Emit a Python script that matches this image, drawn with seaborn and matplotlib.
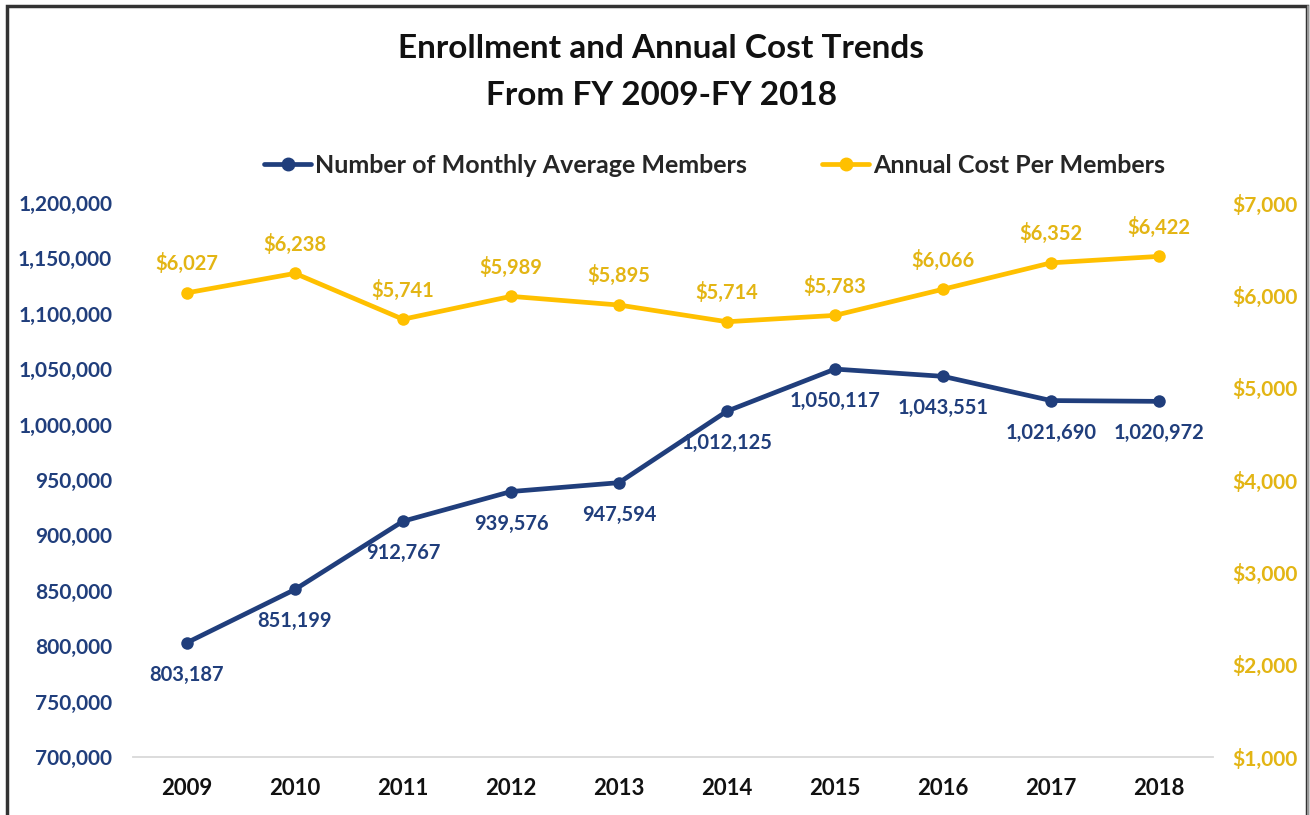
import matplotlib
matplotlib.use("Agg")
import matplotlib.pyplot as plt
import matplotlib.patches as patches
from matplotlib.ticker import FuncFormatter, FixedLocator
import seaborn as sns

years = ["2009", "2010", "2011", "2012", "2013", "2014", "2015", "2016", "2017", "2018"]
members = [803187, 851199, 912767, 939576, 947594, 1012125, 1050117, 1043551, 1021690, 1020972]
cost = [6027, 6238, 5741, 5989, 5895, 5714, 5783, 6066, 6352, 6422]

BLUE = "#203E7C"
GOLD = "#FFC000"
GOLD_TXT = "#E3B514"

sns.set_style("white")
plt.rcParams["font.family"] = ["Lato", "DejaVu Sans"]

fig = plt.figure(figsize=(13.1, 8.15), dpi=100)
ax = fig.add_axes([0.1015, 0.0712, 0.8245, 0.6797])
ax2 = ax.twinx()

pos = list(range(len(years)))
sns.lineplot(x=pos, y=members, ax=ax, color=BLUE, linewidth=3.4, marker="o",
             markersize=9, markeredgewidth=0, legend=False)
sns.lineplot(x=pos, y=cost, ax=ax2, color=GOLD, linewidth=3.4, marker="o",
             markersize=9, markeredgewidth=0, legend=False)

ax.set_ylim(700000, 1200000)
ax.set_yticks(range(700000, 1200001, 50000))
ax.yaxis.set_major_formatter(FuncFormatter(lambda v, p: f"{int(v):,}"))
ax2.set_ylim(1000, 7000)
ax2.set_yticks(range(1000, 7001, 1000))
ax2.yaxis.set_major_formatter(FuncFormatter(lambda v, p: f"${int(v):,}"))

ax.set_xlim(-0.5, len(years) - 0.5)
ax.set_xticks(pos)
ax.set_xticklabels(years)
ax.xaxis.set_minor_locator(FixedLocator([i - 0.5 for i in range(len(years) + 1)]))

for a in (ax, ax2):
    for s in a.spines.values():
        s.set_visible(False)
    a.grid(False)
    a.set_xlabel("")
    a.set_ylabel("")
ax.spines["bottom"].set_visible(True)
ax.spines["bottom"].set_color("#D9D9D9")
ax.spines["bottom"].set_linewidth(1.3)

ax.tick_params(axis="x", which="major", length=0, pad=15, labelsize=16, labelcolor="#111111")
ax.tick_params(axis="x", which="minor", length=7, width=1.3, color="#D9D9D9", direction="out")
ax.tick_params(axis="y", length=0, pad=15, labelsize=15, labelcolor=BLUE)
ax2.tick_params(axis="y", length=0, pad=14, labelsize=15, labelcolor=GOLD_TXT)
for lab in ax.get_xticklabels() + ax.get_yticklabels() + ax2.get_yticklabels():
    lab.set_fontweight("bold")

for x, v in zip(pos, members):
    ax.annotate(f"{v:,}", (x, v), xytext=(0, -23), textcoords="offset points",
                ha="center", va="center", fontsize=14.5, color=BLUE, fontweight="bold")
for x, v in zip(pos, cost):
    ax2.annotate(f"${v:,}", (x, v), xytext=(0, 21), textcoords="offset points",
                 ha="center", va="center", fontsize=14.5, color=GOLD_TXT, fontweight="bold")

fig.text(0.5046, 0.941, "Enrollment and Annual Cost Trends", ha="center", va="center",
         fontsize=24, fontweight="bold", color="#111111")
fig.text(0.5046, 0.883, "From FY 2009-FY 2018", ha="center", va="center",
         fontsize=24, fontweight="bold", color="#111111")

h1 = plt.Line2D([], [], color=BLUE, linewidth=3.4, marker="o", markersize=9)
h2 = plt.Line2D([], [], color=GOLD, linewidth=3.4, marker="o", markersize=9)
leg = fig.legend([h1, h2], ["Number of Monthly Average Members", "Annual Cost Per Members"],
                 loc="center", bbox_to_anchor=(0.5454, 0.7975), ncol=2, frameon=False,
                 handlelength=1.9, handletextpad=0.15, columnspacing=3.0,
                 prop={"size": 18, "weight": "bold"})

# outer frame
fig.add_artist(patches.Rectangle((0.005, -0.01), 0.993, 1.003, transform=fig.transFigure,
                                 fill=False, edgecolor="#333333", linewidth=2.5))
fig.add_artist(plt.Line2D([0.9985, 0.9985], [0, 0.993], transform=fig.transFigure,
                          color="#AAAAAA", linewidth=1.2))

fig.savefig("out.png", dpi=100, facecolor="white")
